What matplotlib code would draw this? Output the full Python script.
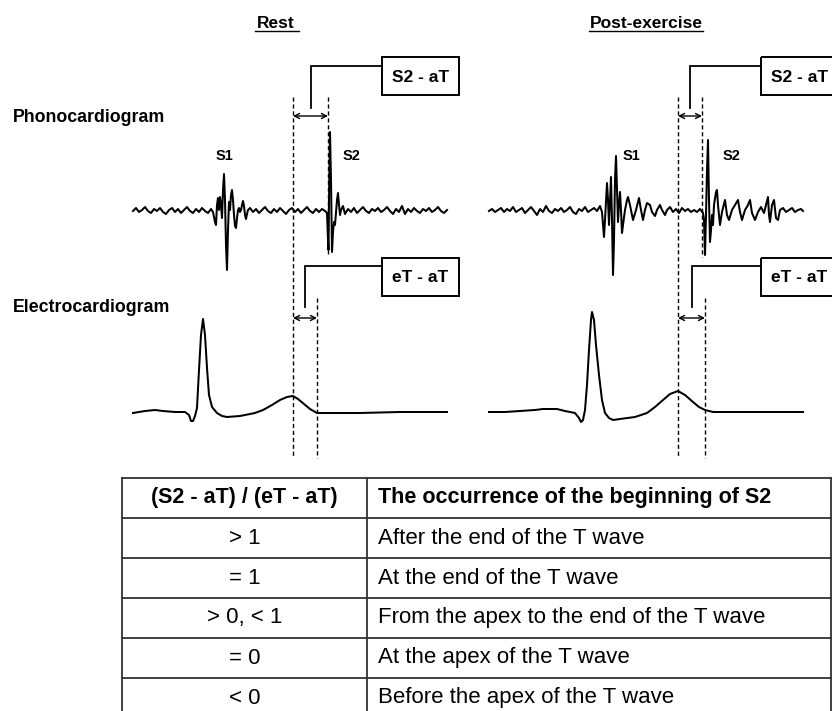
import matplotlib.pyplot as plt
from matplotlib.patches import Rectangle

# Figure works in pixel units of the 832x711 reference (y grows downward)
W, H = 832, 711

rest_pcg_x = [133, 136, 139, 142, 145, 148, 151, 154, 157, 160, 163, 166, 169, 172, 175, 178, 181, 184, 187, 190,
              193, 196, 199, 202, 205, 208, 211,
              213, 215, 216, 217, 218, 219, 220, 221, 222, 223, 224, 225, 226, 227, 228, 229, 230, 231, 232, 233,
              234, 235, 236, 237, 238, 239, 240, 241, 242, 243, 244, 245, 246, 247, 248,
              250, 253, 256, 259, 262, 265, 268, 271, 274, 277, 280, 283, 286, 289, 292, 295, 298, 301, 304, 307,
              310, 313, 316, 319, 322, 325,
              327, 328, 328.5, 329, 330, 331, 332, 333, 334, 335, 336, 337, 338, 339, 340, 341, 343, 345,
              348, 351, 354, 357, 360, 363, 366, 369, 372, 375, 378, 381, 384, 387, 390, 393, 396, 399, 402, 405,
              408, 411, 414, 417, 420, 423, 426, 429, 432, 435, 438, 441, 444, 447]
rest_pcg_y = [211, 208, 212, 210, 207, 211, 213, 209, 211, 208, 212, 214, 210, 208, 212, 209, 213, 210, 207, 211,
              213, 209, 212, 208, 211, 213, 209,
              212, 222, 225, 205, 198, 210, 197, 205, 218, 190, 174, 200, 245, 270, 230, 202, 210, 195, 190, 200,
              215, 226, 228, 218, 210, 208, 212, 210, 205, 201, 206, 215, 219, 214, 210,
              208, 212, 209, 213, 210, 207, 211, 213, 209, 212, 208, 211, 214, 210, 208, 212, 209, 213, 210, 207,
              211, 213, 209, 212, 209, 211,
              213, 240, 250, 200, 132, 180, 252, 232, 222, 225, 212, 200, 193, 205, 215, 210, 206, 214,
              209, 212, 208, 213, 210, 207, 211, 213, 209, 211, 208, 212, 210, 207, 211, 214, 209, 212, 206, 214,
              209, 212, 208, 211, 213, 209, 211, 208, 212, 210, 207, 211, 213, 210]

post_pcg_x = [489, 492, 495, 498, 501, 504, 507, 510, 513, 516, 519, 522, 525, 528, 531, 534, 537, 540, 543, 546,
              549, 552, 555, 558, 561, 564, 567, 570, 573, 576, 579, 582, 585, 588, 591, 594, 597, 600,
              602, 604, 605, 607, 608, 609, 610, 611, 612, 613, 614, 615, 616, 617, 618, 619, 620, 621, 622, 623,
              625, 627, 628, 630, 633, 636, 639, 641, 643, 645, 647, 650, 652, 655, 657, 660, 662, 665, 667,
              670, 673, 676, 679, 682, 685, 688, 691, 694, 697, 700, 703,
              704, 705, 706, 707, 708, 709, 710, 711, 712, 713, 714, 716, 717, 718, 720, 722, 725, 727, 729, 732,
              735, 738, 740, 742, 745, 748, 750, 752, 755, 758, 761, 764, 766, 768, 769, 770, 772, 774, 776, 778,
              780, 783, 786, 789, 792, 795, 798, 801, 803]
post_pcg_y = [211, 209, 212, 210, 208, 212, 209, 211, 207, 212, 210, 208, 213, 210, 207, 211, 215, 209, 212, 206,
              211, 213, 209, 211, 208, 212, 210, 207, 212, 214, 209, 211, 207, 212, 210, 208, 211, 206,
              212, 237, 220, 183, 200, 225, 200, 177, 220, 275, 240, 180, 156, 190, 222, 205, 192, 210, 233, 225,
              210, 200, 197, 205, 220, 210, 198, 210, 220, 210, 203, 205, 212, 216, 210, 205, 210, 215, 210,
              207, 212, 209, 213, 208, 211, 209, 212, 210, 212, 209, 213,
              220, 255, 215, 170, 140, 200, 242, 230, 215, 225, 205, 192, 190, 205, 225, 212, 200, 215, 220, 210,
              205, 200, 212, 220, 210, 205, 200, 213, 220, 212, 207, 213, 205, 197, 215, 222, 205, 200, 218, 220,
              210, 208, 212, 210, 208, 212, 210, 209, 211]

rest_ecg_x = [133, 145, 155, 163, 175, 185, 189, 191, 193, 195, 197, 199, 201, 203, 205, 207, 209, 212, 217, 222,
              227, 240, 255, 263, 272, 280, 287, 293, 298, 304, 310, 317, 325, 360, 400, 447]
rest_ecg_y = [413, 411, 410, 411, 412, 412, 415, 421, 421, 416, 408, 370, 335, 319, 335, 368, 395, 407, 413, 416,
              417, 416, 413, 410, 405, 400, 397, 396, 399, 404, 409, 413, 413, 413, 412, 412]

post_ecg_x = [489, 505, 520, 535, 543, 550, 557, 565, 575, 579, 581, 583, 585, 587, 589, 591, 592, 594, 596, 599,
              602, 605, 609, 613, 620, 635, 647, 655, 663, 670, 678, 685, 693, 699, 705, 713, 730, 760, 803]
post_ecg_y = [412, 412, 411, 410, 409, 409, 409, 411, 413, 418, 422, 420, 410, 385, 350, 320, 312, 320, 345, 375,
              400, 413, 418, 420, 419, 417, 413, 407, 400, 394, 391, 395, 402, 407, 410, 412, 412, 412, 412]

# ---- table content ----
table_header = ['(S2 - aT) / (eT - aT)', 'The occurrence of the beginning of S2']
ratio_labels = ['> 1', '= 1', '> 0, < 1', '= 0', '< 0']
occurrence = ['After the end of the T wave', 'At the end of the T wave',
              'From the apex to the end of the T wave', 'At the apex of the T wave',
              'Before the apex of the T wave']

BOLD = dict(family=['Liberation Sans', 'DejaVu Sans'], weight='bold')
REG = dict(family=['Liberation Sans', 'DejaVu Sans'])


def leader(ax, x0, y0, y1, x1):
    # vertical stub then horizontal run to the label box
    ax.plot([x0, x0, x1], [y0, y1, y1], color='black', lw=1.3, solid_joinstyle='miter')


def label_box(ax, x, y, w, h, txt):
    ax.add_patch(Rectangle((x, y), w, h, fill=False, ec='black', lw=1.4))
    ax.text(x + w / 2, y + h / 2 + 1, txt, ha='center', va='center', fontsize=12.5, **BOLD)


def double_arrow(ax, xa, xb, y):
    ax.annotate('', xy=(xb, y), xytext=(xa, y),
                arrowprops=dict(arrowstyle='<->', lw=1.0, color='black',
                                shrinkA=0, shrinkB=0, mutation_scale=9))


def vdash(ax, x, y0, y1):
    ax.plot([x, x], [y0, y1], color='black', lw=1.0, linestyle=(0, (3, 2)))


fig = plt.figure(figsize=(W / 100, H / 100), dpi=100)
ax = fig.add_axes([0, 0, 1, 1])
ax.set_xlim(0, W)
ax.set_ylim(H, 0)
ax.axis('off')

# titles (underlined)
for cx, t, ul in [(276, 'Rest', (255, 299)), (646, 'Post-exercise', (589, 703))]:
    ax.text(cx, 23, t, ha='center', va='center', fontsize=12.5, **BOLD)
    ax.plot(ul, [31, 31], color='black', lw=1)

ax.text(13, 117, 'Phonocardiogram', ha='left', va='center', fontsize=12.8, **BOLD)
ax.text(13, 308, 'Electrocardiogram', ha='left', va='center', fontsize=12.8, **BOLD)

# traces
for xs, ys in [(rest_pcg_x, rest_pcg_y), (post_pcg_x, post_pcg_y),
               (rest_ecg_x, rest_ecg_y), (post_ecg_x, post_ecg_y)]:
    ax.plot(xs, ys, color='black', lw=1.45, solid_joinstyle='round')

for x, t in [(224, 'S1'), (352, 'S2'), (631, 'S1'), (732, 'S2')]:
    ax.text(x, 156, t, ha='center', va='center', fontsize=10.5, **BOLD)

# rest markers
vdash(ax, 293, 97, 458)
vdash(ax, 328, 97, 254)
vdash(ax, 317, 298, 458)
double_arrow(ax, 293, 328, 116)
double_arrow(ax, 293, 317, 318)
leader(ax, 311, 108, 66, 382)
leader(ax, 305, 307, 266, 382)
label_box(ax, 382, 57, 77, 38, 'S2 - aT')
label_box(ax, 382, 258, 77, 38, 'eT - aT')

# post-exercise markers
vdash(ax, 678, 97, 458)
vdash(ax, 702, 97, 257)
vdash(ax, 705, 298, 458)
double_arrow(ax, 678, 702, 116)
double_arrow(ax, 678, 705, 318)
leader(ax, 690, 108, 66, 761)
leader(ax, 692, 307, 266, 761)
label_box(ax, 761, 57, 77, 38, 'S2 - aT')
label_box(ax, 761, 258, 77, 38, 'eT - aT')

# table
tl, tdiv, tr, ttop, rh = 122, 367, 831, 478, 40
nrows = len(ratio_labels) + 1
line_kw = dict(color='#333333', lw=1.3)
for i in range(nrows + 1):
    y = ttop + i * rh
    ax.plot([tl, tr], [y, y], **line_kw)
for x in (tl, tdiv, tr):
    ax.plot([x, x], [ttop, ttop + nrows * rh], **line_kw)

ax.text((tl + tdiv) / 2, ttop + rh / 2, table_header[0], ha='center', va='center', fontsize=15.5, **BOLD)
ax.text(tdiv + 11, ttop + rh / 2, table_header[1], ha='left', va='center', fontsize=15.5, **BOLD)
for i, (r, o) in enumerate(zip(ratio_labels, occurrence)):
    yc = ttop + (i + 1.5) * rh
    ax.text((tl + tdiv) / 2, yc, r, ha='center', va='center', fontsize=16, **REG)
    ax.text(tdiv + 11, yc, o, ha='left', va='center', fontsize=16, **REG)

fig.savefig('out.png', dpi=100)
